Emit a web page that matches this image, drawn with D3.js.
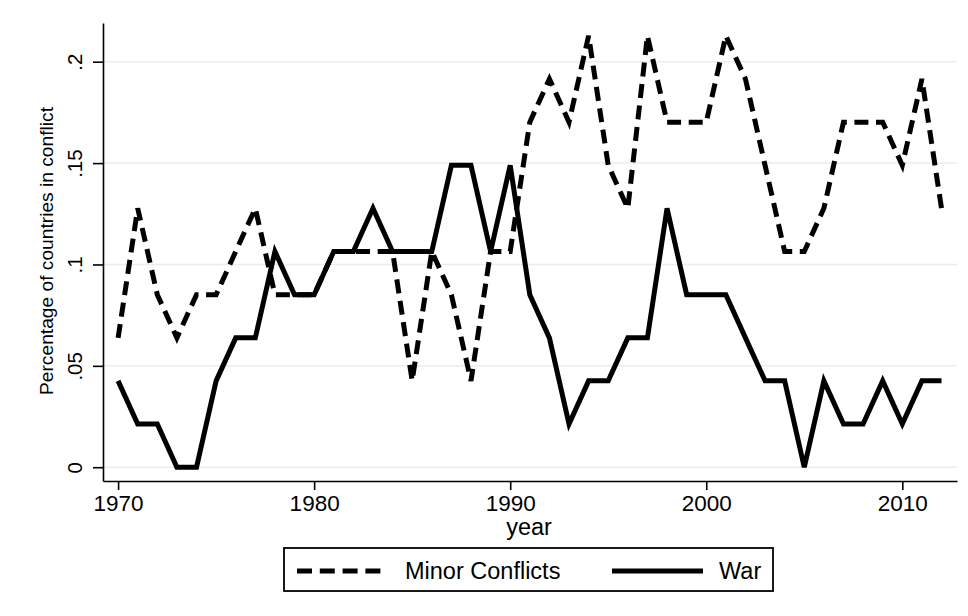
<!DOCTYPE html>
<html>
<head>
<meta charset="utf-8">
<script src="https://cdn.jsdelivr.net/npm/d3@7"></script>
<style>
  body { margin: 0; background: #fff; }
  text { font-family: "Liberation Sans", Arial, Helvetica, sans-serif; fill: #000; }
</style>
</head>
<body>
<div id="chart"></div>
<script>
// share of countries in conflict, by year
var years = [1970, 1971, 1972, 1973, 1974, 1975, 1976, 1977, 1978, 1979,
    1980, 1981, 1982, 1983, 1984, 1985, 1986, 1987, 1988, 1989,
    1990, 1991, 1992, 1993, 1994, 1995, 1996, 1997, 1998, 1999,
    2000, 2001, 2002, 2003, 2004, 2005, 2006, 2007, 2008, 2009,
    2010, 2011, 2012];

var minorConflicts = [0.0638, 0.1277, 0.0851, 0.0638, 0.0851, 0.0851, 0.1064, 0.1277, 0.0851, 0.0851,
    0.0851, 0.1064, 0.1064, 0.1064, 0.1064, 0.0426, 0.1064, 0.0851, 0.0426, 0.1064,
    0.1064, 0.1702, 0.1915, 0.1702, 0.2128, 0.1489, 0.1277, 0.2128, 0.1702, 0.1702,
    0.1702, 0.2128, 0.1915, 0.1489, 0.1064, 0.1064, 0.1277, 0.1702, 0.1702, 0.1702,
    0.1489, 0.1915, 0.1277];

var war = [0.0426, 0.0213, 0.0213, 0, 0, 0.0426, 0.0638, 0.0638, 0.1064, 0.0851,
    0.0851, 0.1064, 0.1064, 0.1277, 0.1064, 0.1064, 0.1064, 0.1489, 0.1489, 0.1064,
    0.1489, 0.0851, 0.0638, 0.0213, 0.0426, 0.0426, 0.0638, 0.0638, 0.1277, 0.0851,
    0.0851, 0.0851, 0.0638, 0.0426, 0.0426, 0, 0.0426, 0.0213, 0.0213, 0.0426,
    0.0213, 0.0426, 0.0426];

var xTicks = [1970, 1980, 1990, 2000, 2010];
var yTicks = [0, 0.05, 0.1, 0.15, 0.2];
var yTickLabels = ["0", ".05", ".1", ".15", ".2"];
var seriesNames = ["Minor Conflicts", "War"];

var width = 968, height = 616;
var plot = { left: 103, right: 957, top: 23, bottom: 481 };
var dashes = "14,7.6";

var svg = d3.select("#chart").append("svg")
    .attr("width", width)
    .attr("height", height);

var x = d3.scaleLinear()
    .domain([1969.23, 2012.79])
    .range([plot.left, plot.right]);

var y = d3.scaleLinear()
    .domain([-0.0068, 0.2191])
    .range([plot.bottom, plot.top]);

// grid
svg.append("g").selectAll("line")
    .data(yTicks)
    .enter().append("line")
    .attr("x1", plot.left)
    .attr("x2", plot.right)
    .attr("y1", function(d) { return y(d); })
    .attr("y2", function(d) { return y(d); })
    .attr("stroke", "#ececec")
    .attr("stroke-width", 1.5);

// axes
var xAxis = svg.append("g")
    .attr("transform", "translate(0," + plot.bottom + ")")
    .call(d3.axisBottom(x).tickValues(xTicks).tickFormat(d3.format("d"))
        .tickSizeInner(9).tickSizeOuter(0));
xAxis.selectAll("text")
    .attr("y", 30).attr("dy", 0)
    .style("font-size", "22.5px");

var yAxis = svg.append("g")
    .attr("transform", "translate(" + plot.left + ",0)")
    .call(d3.axisLeft(y).tickValues(yTicks)
        .tickFormat(function(d, i) { return yTickLabels[i]; })
        .tickSizeInner(10).tickSizeOuter(0));
yAxis.selectAll("text")
    .attr("transform", "rotate(-90)")
    .attr("x", 0).attr("y", -21).attr("dy", 0)
    .attr("text-anchor", "middle")
    .style("font-size", "20.5px");

svg.selectAll(".domain, .tick line")
    .attr("stroke", "#000")
    .attr("stroke-width", 1.6);

// titles
svg.append("text")
    .attr("x", 529).attr("y", 535)
    .attr("text-anchor", "middle")
    .style("font-size", "23.5px")
    .text("year");

svg.append("text")
    .attr("transform", "translate(53,251) rotate(-90)")
    .attr("text-anchor", "middle")
    .style("font-size", "19.2px")
    .text("Percentage of countries in conflict");

// lines
var line = function(values) {
    return d3.line()
        .x(function(d, i) { return x(years[i]); })
        .y(function(d) { return y(d); })(values);
};

svg.append("path")
    .attr("d", line(war))
    .attr("fill", "none")
    .attr("stroke", "#000")
    .attr("stroke-width", 5);

svg.append("path")
    .attr("d", line(minorConflicts))
    .attr("fill", "none")
    .attr("stroke", "#000")
    .attr("stroke-width", 5)
    .attr("stroke-dasharray", dashes);

// legend
var legend = svg.append("g");
legend.append("rect")
    .attr("x", 284).attr("y", 548)
    .attr("width", 489).attr("height", 43)
    .attr("fill", "#fff")
    .attr("stroke", "#000")
    .attr("stroke-width", 1.8);

legend.append("line")
    .attr("x1", 297).attr("x2", 388)
    .attr("y1", 571).attr("y2", 571)
    .attr("stroke", "#000").attr("stroke-width", 5)
    .attr("stroke-dasharray", "15,7.8");
legend.append("text")
    .attr("x", 405).attr("y", 579)
    .style("font-size", "23.5px")
    .text(seriesNames[0]);

legend.append("line")
    .attr("x1", 612).attr("x2", 703)
    .attr("y1", 571).attr("y2", 571)
    .attr("stroke", "#000").attr("stroke-width", 5);
legend.append("text")
    .attr("x", 719).attr("y", 579)
    .style("font-size", "23.5px")
    .text(seriesNames[1]);
</script>
</body>
</html>
